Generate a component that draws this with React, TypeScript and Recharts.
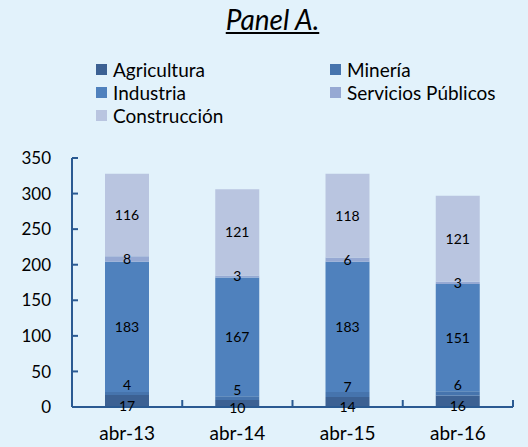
import { BarChart, Bar, XAxis, YAxis, LabelList } from "recharts";

const periods = ["abr-13", "abr-14", "abr-15", "abr-16"];
const agricultura = [17, 10, 14, 16];
const mineria = [4, 5, 7, 6];
const industria = [183, 167, 183, 151];
const servicios = [8, 3, 6, 3];
const construccion = [116, 121, 118, 121];
const yTicks = [0, 50, 100, 150, 200, 250, 300, 350];

const SERIES = [
  { key: "agricultura", name: "Agricultura", color: "#3c6193", dy: 5 },
  { key: "mineria", name: "Minería", color: "#4674ad", dy: -8 },
  { key: "industria", name: "Industria", color: "#4f81bd", dy: 0 },
  { key: "servicios", name: "Servicios Públicos", color: "#96a9d3", dy: 0 },
  { key: "construccion", name: "Construcción", color: "#b9c5e0", dy: 0 },
];

const FONT = "Lato, 'Open Sans', sans-serif";
const AXIS = "#2a5a92";
const X_MARGIN = 20;
const Y_MARGIN = 20;

const data = periods.map((p, i) => ({
  period: p,
  agricultura: agricultura[i],
  mineria: mineria[i],
  industria: industria[i],
  servicios: servicios[i],
  construccion: construccion[i],
}));

// legend goes in two columns, left to right then down
const legendPos = (i: number) => ({
  left: i % 2 === 0 ? 96 : 330,
  top: 58 + Math.floor(i / 2) * 23,
});

// label + a short inside tick at the right edge of the category band
const XTick = (props: any) => {
  const { x, y, payload } = props;
  const axisY = y - X_MARGIN;
  const edge = x + (payload.offset || 0);
  return (
    <g>
      <line x1={edge} x2={edge} y1={axisY} y2={axisY - 7} stroke={AXIS} strokeWidth={2} />
      <text x={x} y={y} dy="0.7em" textAnchor="middle" fill="#000" fontSize={19} fontFamily={FONT}>
        {payload.value}
      </text>
    </g>
  );
};

// label + a short tick pointing into the plot
const YTick = (props: any) => {
  const { x, y, payload } = props;
  const axisX = x + Y_MARGIN;
  return (
    <g>
      <line x1={axisX} x2={axisX + 6} y1={y} y2={y} stroke={AXIS} strokeWidth={2} />
      <text x={x - 1} y={y} dy="0.36em" textAnchor="end" fill="#000" fontSize={17} fontFamily={FONT}>
        {payload.value}
      </text>
    </g>
  );
};

export default function App() {
  return (
    <div
      style={{
        position: "absolute",
        left: 0,
        top: 0,
        width: 528,
        height: 447,
        background: "#e2f2fb",
        fontFamily: FONT,
        overflow: "hidden",
      }}
    >
      <div
        style={{
          position: "absolute",
          top: 2,
          width: 545,
          textAlign: "center",
          fontSize: 28,
          fontStyle: "italic",
          textDecoration: "underline",
          color: "#000",
        }}
      >
        Panel A.
      </div>
      {SERIES.map((s, i) => (
        <div
          key={s.key}
          style={{
            position: "absolute",
            ...legendPos(i),
            display: "flex",
            alignItems: "center",
            fontSize: 19,
            lineHeight: "23px",
            color: "#000",
            whiteSpace: "nowrap",
          }}
        >
          <span
            style={{
              display: "inline-block",
              width: 11,
              height: 11,
              background: s.color,
              marginRight: 6,
            }}
          />
          {s.name}
        </div>
      ))}
      <div style={{ position: "absolute", left: 0, top: 0 }}>
        <BarChart
          width={528}
          height={447}
          data={data}
          margin={{ top: 158, right: 15, bottom: 0, left: 0 }}
          barSize={44}
        >
          <XAxis
            dataKey="period"
            height={40}
            axisLine={{ stroke: AXIS, strokeWidth: 2 }}
            tickLine={false}
            tickSize={0}
            tickMargin={X_MARGIN}
            tick={<XTick />}
          />
          <YAxis
            width={72}
            domain={[0, 350]}
            ticks={yTicks}
            interval={0}
            axisLine={{ stroke: AXIS, strokeWidth: 2 }}
            tickLine={false}
            tickSize={0}
            tickMargin={Y_MARGIN}
            tick={<YTick />}
          />
          {SERIES.map((s) => (
            <Bar
              key={s.key}
              dataKey={s.key}
              name={s.name}
              stackId="a"
              fill={s.color}
              isAnimationActive={false}
            >
              <LabelList
                dataKey={s.key}
                position="center"
                fill="#000"
                fontSize={14}
                fontFamily={FONT}
                offset={0}
                dy={s.dy}
              />
            </Bar>
          ))}
        </BarChart>
      </div>
    </div>
  );
}
